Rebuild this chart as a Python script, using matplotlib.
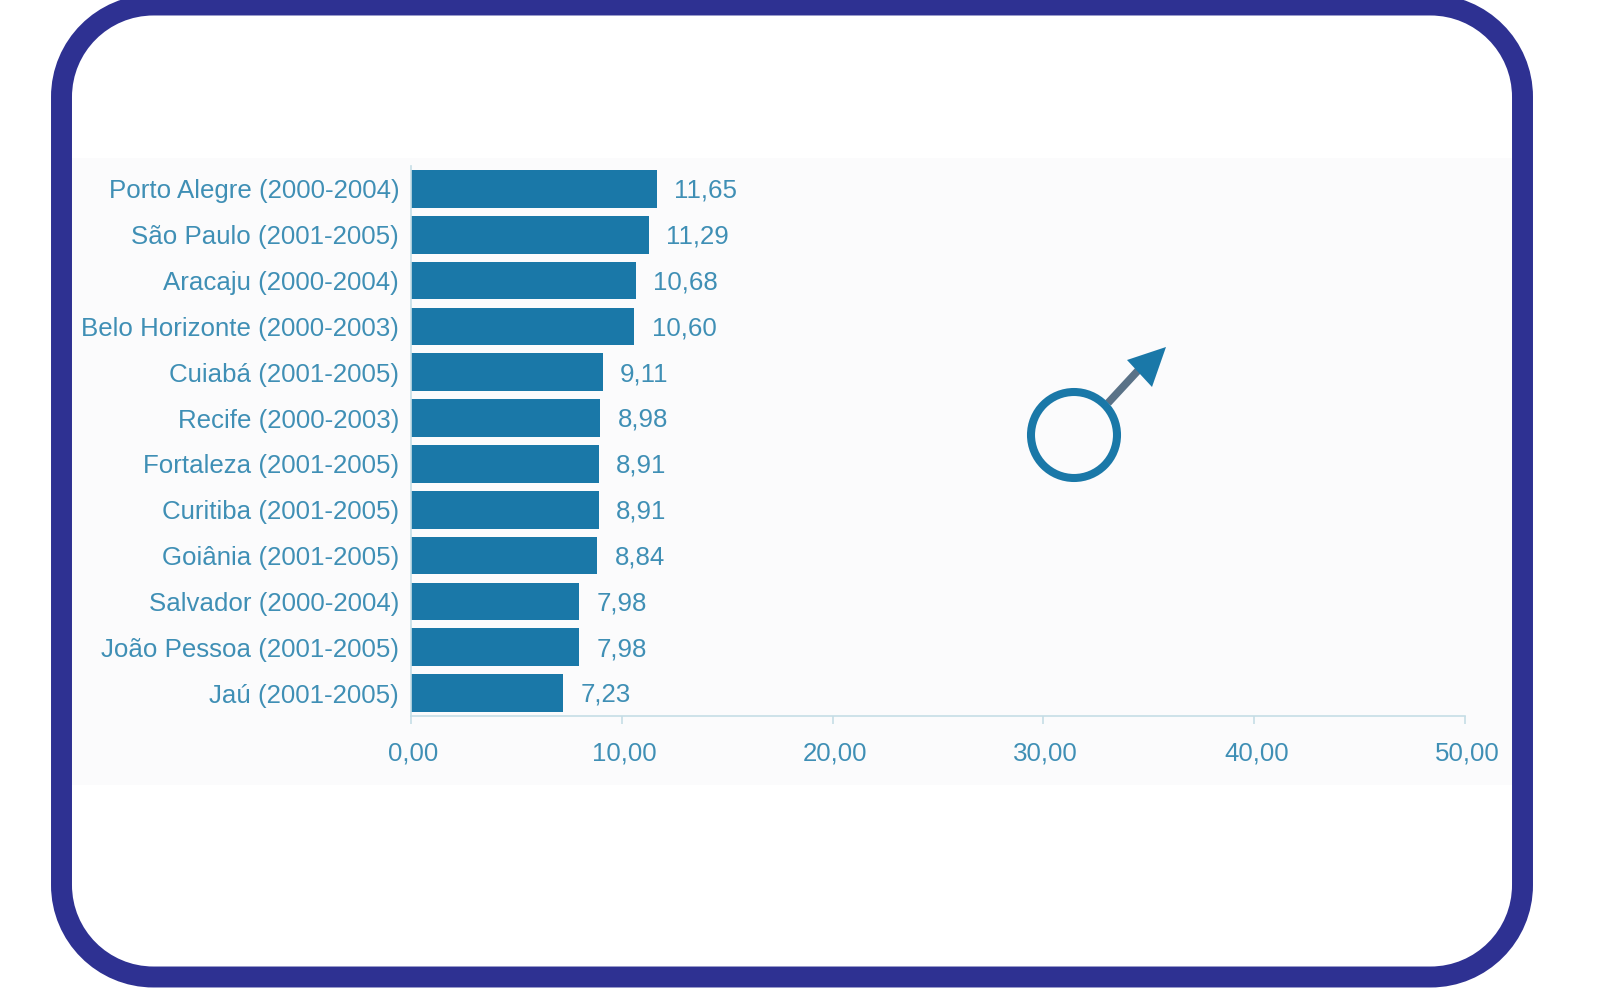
import matplotlib
matplotlib.use("Agg")
import matplotlib.pyplot as plt
from matplotlib.patches import Circle, PathPatch, Polygon, Rectangle
from matplotlib.path import Path
from matplotlib.transforms import ScaledTranslation

cidades = ["Porto Alegre (2000-2004)", "São Paulo (2001-2005)", "Aracaju (2000-2004)",
           "Belo Horizonte (2000-2003)", "Cuiabá (2001-2005)", "Recife (2000-2003)",
           "Fortaleza (2001-2005)", "Curitiba (2001-2005)", "Goiânia (2001-2005)",
           "Salvador (2000-2004)", "João Pessoa (2001-2005)", "Jaú (2001-2005)"]
taxas = [11.65, 11.29, 10.68, 10.60, 9.11, 8.98, 8.91, 8.91, 8.84, 7.98, 7.98, 7.23]
eixo_x = [0, 10, 20, 30, 40, 50]

W, H = 1607, 989
AZUL = "#1a78a8"
TEXTO = "#3f8fb5"
EIXO = "#c5dde6"

plt.rcParams["font.family"] = ["Liberation Sans", "DejaVu Sans"]

def virgula(v):
    return f"{v:.2f}".replace(".", ",")

def moldura(x0, y0, x1, y1, r):
    # retangulo com cantos circulares (bezier cubica)
    k = r * (1 - 0.5523)
    verts = [(x0 + r, y0), (x1 - r, y0),
             (x1 - k, y0), (x1, y0 + k), (x1, y0 + r),
             (x1, y1 - r),
             (x1, y1 - k), (x1 - k, y1), (x1 - r, y1),
             (x0 + r, y1),
             (x0 + k, y1), (x0, y1 - k), (x0, y1 - r),
             (x0, y0 + r),
             (x0, y0 + k), (x0 + k, y0), (x0 + r, y0),
             (x0 + r, y0)]
    codes = [Path.MOVETO, Path.LINETO,
             Path.CURVE4, Path.CURVE4, Path.CURVE4,
             Path.LINETO,
             Path.CURVE4, Path.CURVE4, Path.CURVE4,
             Path.LINETO,
             Path.CURVE4, Path.CURVE4, Path.CURVE4,
             Path.LINETO,
             Path.CURVE4, Path.CURVE4, Path.CURVE4,
             Path.CLOSEPOLY]
    return Path(verts, codes)

fig = plt.figure(figsize=(W / 100, H / 100), dpi=100, facecolor="white")

# camada de fundo em pixels: painel e moldura arredondada
fundo = fig.add_axes([0, 0, 1, 1])
fundo.set_xlim(0, W)
fundo.set_ylim(H, 0)
fundo.axis("off")
fundo.add_patch(Rectangle((72, 158), 1440, 627, fc="#fbfbfc", ec="none"))
fundo.add_patch(PathPatch(moldura(61.5, 5, 1522.5, 977, 92), fc="none", ec="#2e3192", lw=15.1))

# grafico de barras
ax = fig.add_axes([411 / W, 1 - 716 / H, 1054 / W, 550 / H])
ax.patch.set_alpha(0)
pos = list(range(len(cidades)))
ax.barh(pos, taxas, height=0.82, color=AZUL)
ax.set_xlim(0, 50)
ax.set_ylim(len(cidades) - 0.5, -0.5)
ax.set_yticks(pos, cidades)
ax.set_xticks(eixo_x, [virgula(v) for v in eixo_x])
ax.tick_params(axis="y", length=0, pad=8.5, labelsize=18.6, labelcolor=TEXTO)
ax.tick_params(axis="x", length=6, width=1.2, color=EIXO, pad=12.7, labelsize=18.6, labelcolor=TEXTO)
for lado in ["top", "right"]:
    ax.spines[lado].set_visible(False)
for lado in ["left", "bottom"]:
    ax.spines[lado].set_color(EIXO)
    ax.spines[lado].set_linewidth(1.2)

# rotulos do eixo x levemente deslocados para a direita
desloc = ScaledTranslation(2.2 / 100, 0, fig.dpi_scale_trans)
for rot in ax.get_xticklabels():
    rot.set_transform(rot.get_transform() + desloc)

for y, v in zip(pos, taxas):
    ax.annotate(virgula(v), (v, y), xytext=(12.3, -1.3), textcoords="offset points",
                va="center", ha="left", color=TEXTO, fontsize=18.6)

# simbolo masculino
simbolo = fig.add_axes([0, 0, 1, 1])
simbolo.set_xlim(0, W)
simbolo.set_ylim(H, 0)
simbolo.axis("off")
simbolo.plot([1108, 1145], [403, 363], color="#5a7287", lw=5.5, solid_capstyle="butt", zorder=1)
simbolo.add_patch(Polygon([(1166, 347), (1127, 360), (1152, 387)], fc=AZUL, ec="none", zorder=2))
simbolo.add_patch(Circle((1074, 435), 43, fc="none", ec=AZUL, lw=5.8, zorder=2))

fig.savefig("out.png", dpi=100)
